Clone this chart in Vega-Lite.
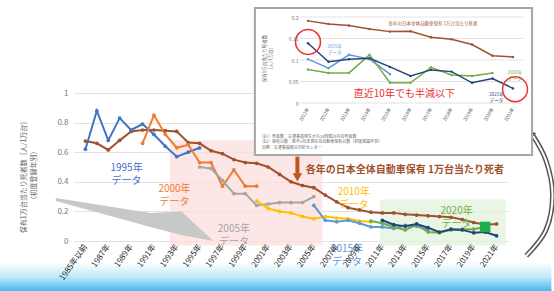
{
  "$schema": "https://vega.github.io/schema/vega-lite/v6.json",
  "width": 434,
  "height": 148,
  "autosize": {"type": "none"},
  "padding": {"left": 74, "top": 93, "right": 46, "bottom": 50},
  "background": "white",
  "config": {"view": {"stroke": null}, "font": "Noto Sans CJK JP", "text": {"font": "Noto Sans CJK JP"}},
  "datasets": {
    "lines": [
      {"series": "全体", "yr": 1985, "v": 0.675}, {"series": "全体", "yr": 1986, "v": 0.66}, {"series": "全体", "yr": 1987, "v": 0.615}, {"series": "全体", "yr": 1988, "v": 0.68}, {"series": "全体", "yr": 1989, "v": 0.74}, {"series": "全体", "yr": 1990, "v": 0.75}, {"series": "全体", "yr": 1991, "v": 0.75}, {"series": "全体", "yr": 1992, "v": 0.745}, {"series": "全体", "yr": 1993, "v": 0.74}, {"series": "全体", "yr": 1994, "v": 0.665}, {"series": "全体", "yr": 1995, "v": 0.66}, {"series": "全体", "yr": 1996, "v": 0.61}, {"series": "全体", "yr": 1997, "v": 0.59}, {"series": "全体", "yr": 1998, "v": 0.55}, {"series": "全体", "yr": 1999, "v": 0.53}, {"series": "全体", "yr": 2000, "v": 0.525}, {"series": "全体", "yr": 2001, "v": 0.5}, {"series": "全体", "yr": 2002, "v": 0.45}, {"series": "全体", "yr": 2003, "v": 0.4}, {"series": "全体", "yr": 2004, "v": 0.375}, {"series": "全体", "yr": 2005, "v": 0.36}, {"series": "全体", "yr": 2006, "v": 0.31}, {"series": "全体", "yr": 2007, "v": 0.265}, {"series": "全体", "yr": 2008, "v": 0.225}, {"series": "全体", "yr": 2009, "v": 0.21}, {"series": "全体", "yr": 2010, "v": 0.195}, {"series": "全体", "yr": 2011, "v": 0.19}, {"series": "全体", "yr": 2012, "v": 0.19}, {"series": "全体", "yr": 2013, "v": 0.18}, {"series": "全体", "yr": 2014, "v": 0.175}, {"series": "全体", "yr": 2015, "v": 0.17}, {"series": "全体", "yr": 2016, "v": 0.165}, {"series": "全体", "yr": 2017, "v": 0.16}, {"series": "全体", "yr": 2018, "v": 0.145}, {"series": "全体", "yr": 2019, "v": 0.125}, {"series": "全体", "yr": 2020, "v": 0.11}, {"series": "全体", "yr": 2021, "v": 0.115},
      {"series": "1995年データ", "yr": 1985, "v": 0.62}, {"series": "1995年データ", "yr": 1986, "v": 0.88}, {"series": "1995年データ", "yr": 1987, "v": 0.68}, {"series": "1995年データ", "yr": 1988, "v": 0.83}, {"series": "1995年データ", "yr": 1989, "v": 0.75}, {"series": "1995年データ", "yr": 1990, "v": 0.79}, {"series": "1995年データ", "yr": 1991, "v": 0.72}, {"series": "1995年データ", "yr": 1992, "v": 0.64}, {"series": "1995年データ", "yr": 1993, "v": 0.57}, {"series": "1995年データ", "yr": 1994, "v": 0.6}, {"series": "1995年データ", "yr": 1995, "v": 0.63},
      {"series": "2000年データ", "yr": 1990, "v": 0.66}, {"series": "2000年データ", "yr": 1991, "v": 0.85}, {"series": "2000年データ", "yr": 1992, "v": 0.72}, {"series": "2000年データ", "yr": 1993, "v": 0.63}, {"series": "2000年データ", "yr": 1994, "v": 0.65}, {"series": "2000年データ", "yr": 1995, "v": 0.53}, {"series": "2000年データ", "yr": 1996, "v": 0.53}, {"series": "2000年データ", "yr": 1997, "v": 0.37}, {"series": "2000年データ", "yr": 1998, "v": 0.48}, {"series": "2000年データ", "yr": 1999, "v": 0.37}, {"series": "2000年データ", "yr": 2000, "v": 0.37},
      {"series": "2005年データ", "yr": 1995, "v": 0.5}, {"series": "2005年データ", "yr": 1996, "v": 0.49}, {"series": "2005年データ", "yr": 1997, "v": 0.41}, {"series": "2005年データ", "yr": 1998, "v": 0.32}, {"series": "2005年データ", "yr": 1999, "v": 0.32}, {"series": "2005年データ", "yr": 2000, "v": 0.24}, {"series": "2005年データ", "yr": 2001, "v": 0.25}, {"series": "2005年データ", "yr": 2002, "v": 0.26}, {"series": "2005年データ", "yr": 2003, "v": 0.26}, {"series": "2005年データ", "yr": 2004, "v": 0.26}, {"series": "2005年データ", "yr": 2005, "v": 0.3},
      {"series": "2010年データ", "yr": 2000, "v": 0.27}, {"series": "2010年データ", "yr": 2001, "v": 0.22}, {"series": "2010年データ", "yr": 2002, "v": 0.2}, {"series": "2010年データ", "yr": 2003, "v": 0.19}, {"series": "2010年データ", "yr": 2004, "v": 0.165}, {"series": "2010年データ", "yr": 2005, "v": 0.15}, {"series": "2010年データ", "yr": 2006, "v": 0.165}, {"series": "2010年データ", "yr": 2007, "v": 0.155}, {"series": "2010年データ", "yr": 2008, "v": 0.15}, {"series": "2010年データ", "yr": 2009, "v": 0.135}, {"series": "2010年データ", "yr": 2010, "v": 0.13},
      {"series": "2015年データ", "yr": 2005, "v": 0.24}, {"series": "2015年データ", "yr": 2006, "v": 0.14}, {"series": "2015年データ", "yr": 2007, "v": 0.13}, {"series": "2015年データ", "yr": 2008, "v": 0.14}, {"series": "2015年データ", "yr": 2009, "v": 0.12}, {"series": "2015年データ", "yr": 2010, "v": 0.095}, {"series": "2015年データ", "yr": 2011, "v": 0.095}, {"series": "2015年データ", "yr": 2012, "v": 0.085}, {"series": "2015年データ", "yr": 2013, "v": 0.105}, {"series": "2015年データ", "yr": 2014, "v": 0.1}, {"series": "2015年データ", "yr": 2015, "v": 0.075},
      {"series": "2020年データ", "yr": 2010, "v": 0.135}, {"series": "2020年データ", "yr": 2011, "v": 0.12}, {"series": "2020年データ", "yr": 2012, "v": 0.095}, {"series": "2020年データ", "yr": 2013, "v": 0.075}, {"series": "2020年データ", "yr": 2014, "v": 0.11}, {"series": "2020年データ", "yr": 2015, "v": 0.06}, {"series": "2020年データ", "yr": 2016, "v": 0.055}, {"series": "2020年データ", "yr": 2017, "v": 0.075}, {"series": "2020年データ", "yr": 2018, "v": 0.08}, {"series": "2020年データ", "yr": 2019, "v": 0.08}, {"series": "2020年データ", "yr": 2020, "v": 0.095},
      {"series": "2021年データ", "yr": 2011, "v": 0.14}, {"series": "2021年データ", "yr": 2012, "v": 0.11}, {"series": "2021年データ", "yr": 2013, "v": 0.1}, {"series": "2021年データ", "yr": 2014, "v": 0.115}, {"series": "2021年データ", "yr": 2015, "v": 0.09}, {"series": "2021年データ", "yr": 2016, "v": 0.06}, {"series": "2021年データ", "yr": 2017, "v": 0.08}, {"series": "2021年データ", "yr": 2018, "v": 0.075}, {"series": "2021年データ", "yr": 2019, "v": 0.055}, {"series": "2021年データ", "yr": 2020, "v": 0.06}, {"series": "2021年データ", "yr": 2021, "v": 0.035}
    ],
    "labels": [
      {"series": "1995年データ", "yr": 1988.6, "v": 0.494, "text": "1995年"},
      {"series": "1995年データ", "yr": 1988.6, "v": 0.406, "text": "データ"},
      {"series": "2000年データ", "yr": 1992.8, "v": 0.354, "text": "2000年"},
      {"series": "2000年データ", "yr": 1992.8, "v": 0.266, "text": "データ"},
      {"series": "2005年データ", "yr": 1998.0, "v": 0.084, "text": "2005年"},
      {"series": "2005年データ", "yr": 1998.0, "v": -0.004, "text": "データ"},
      {"series": "2010年データ", "yr": 2008.5, "v": 0.334, "text": "2010年"},
      {"series": "2010年データ", "yr": 2008.5, "v": 0.246, "text": "データ"},
      {"series": "2015年データ", "yr": 2007.9, "v": -0.056, "text": "2015年"},
      {"series": "2015年データ", "yr": 2007.9, "v": -0.144, "text": "データ"},
      {"series": "2020年データ", "yr": 2017.5, "v": 0.204, "text": "2020年"},
      {"series": "2020年データ", "yr": 2017.5, "v": 0.116, "text": "データ"}
    ],
    "inset": [
      {"series": "全体", "yr": 2011, "v": 0.191}, {"series": "全体", "yr": 2012, "v": 0.184}, {"series": "全体", "yr": 2013, "v": 0.18}, {"series": "全体", "yr": 2014, "v": 0.172}, {"series": "全体", "yr": 2015, "v": 0.166}, {"series": "全体", "yr": 2016, "v": 0.167}, {"series": "全体", "yr": 2017, "v": 0.153}, {"series": "全体", "yr": 2018, "v": 0.148}, {"series": "全体", "yr": 2019, "v": 0.136}, {"series": "全体", "yr": 2020, "v": 0.11}, {"series": "全体", "yr": 2021, "v": 0.107},
      {"series": "2015年データ", "yr": 2011, "v": 0.102}, {"series": "2015年データ", "yr": 2012, "v": 0.081}, {"series": "2015年データ", "yr": 2013, "v": 0.112}, {"series": "2015年データ", "yr": 2014, "v": 0.102}, {"series": "2015年データ", "yr": 2015, "v": 0.067},
      {"series": "2020年データ", "yr": 2011, "v": 0.078}, {"series": "2020年データ", "yr": 2012, "v": 0.07}, {"series": "2020年データ", "yr": 2013, "v": 0.07}, {"series": "2020年データ", "yr": 2014, "v": 0.112}, {"series": "2020年データ", "yr": 2015, "v": 0.047}, {"series": "2020年データ", "yr": 2016, "v": 0.047}, {"series": "2020年データ", "yr": 2017, "v": 0.083}, {"series": "2020年データ", "yr": 2018, "v": 0.065}, {"series": "2020年データ", "yr": 2019, "v": 0.063}, {"series": "2020年データ", "yr": 2020, "v": 0.07},
      {"series": "2021年データ", "yr": 2011, "v": 0.139}, {"series": "2021年データ", "yr": 2012, "v": 0.096}, {"series": "2021年データ", "yr": 2013, "v": 0.102}, {"series": "2021年データ", "yr": 2014, "v": 0.104}, {"series": "2021年データ", "yr": 2015, "v": 0.084}, {"series": "2021年データ", "yr": 2016, "v": 0.063}, {"series": "2021年データ", "yr": 2017, "v": 0.077}, {"series": "2021年データ", "yr": 2018, "v": 0.073}, {"series": "2021年データ", "yr": 2019, "v": 0.047}, {"series": "2021年データ", "yr": 2020, "v": 0.057}, {"series": "2021年データ", "yr": 2021, "v": 0.034}
    ],
    "insetLabels": [
      {"series": "全体", "yr": 2017.1, "v": 0.184, "text": "各年の日本全体自動車保有 1万台当たり死者"},
      {"series": "2015年データ", "yr": 2012.3, "v": 0.13, "text": "2015年"},
      {"series": "2015年データ", "yr": 2012.3, "v": 0.116, "text": "データ"},
      {"series": "2021年データ", "yr": 2020.2, "v": 0.019, "text": "2021年"},
      {"series": "2021年データ", "yr": 2020.2, "v": 0.005, "text": "データ"},
      {"series": "2020年データ", "yr": 2021.1, "v": 0.069, "text": "2020年"},
      {"series": "2020年データ", "yr": 2021.1, "v": 0.055, "text": "データ"}
    ]
  },
  "layer": [
    {
      "layer": [
        {
          "data": {"values": [{"yr": 1977.5, "yr2": 2025.8, "v": -0.145, "v2": -0.345}]},
          "mark": {"type": "rect", "color": {"gradient": "linear", "x1": 0, "y1": 0, "x2": 0, "y2": 1, "stops": [{"offset": 0, "color": "#ffffff"}, {"offset": 0.5, "color": "#bde8fa"}, {"offset": 1, "color": "#3ab6ea"}]}},
          "encoding": {
            "x": {"field": "yr", "type": "quantitative", "scale": {"domain": [1984, 2022], "nice": false, "zero": false},
              "axis": {"values": [1985, 1987, 1989, 1991, 1993, 1995, 1997, 1999, 2001, 2003, 2005, 2007, 2009, 2011, 2013, 2015, 2017, 2019, 2021], "tickCount": 100, "labelExpr": "datum.value == 1985 ? '1985年以前' : datum.value + '年'", "labelAngle": -55, "labelFontSize": 8, "labelColor": "#222", "labelPadding": 4, "domain": false, "ticks": false, "grid": false, "title": null, "zindex": 1, "labelOverlap": false}},
            "x2": {"field": "yr2"},
            "y": {"field": "v", "type": "quantitative", "scale": {"domain": [0, 1], "nice": false, "zero": false},
              "axis": {"values": [0, 0.2, 0.4, 0.6, 0.8, 1], "tickCount": 100, "format": "~g", "labelFontSize": 8, "labelColor": "#777", "labelPadding": 6, "labelOverlap": false, "domain": false, "ticks": false, "grid": true, "gridColor": "#e2e2e2", "title": ["保有1万台当たり死者数［人/1万台］", "（初度登録年別）"], "titleFontSize": 7, "titleFontWeight": "normal", "titleColor": "#666", "titleX": -48, "titleY": 82, "titleLineHeight": 10}},
            "y2": {"field": "v2"}
          }
        },
        {
          "data": {"values": [{"yr": 1992.4, "yr2": 2005.75, "v": -0.03, "v2": 0.68}]},
          "mark": {"type": "rect", "color": "#fbdede", "opacity": 0.75},
          "encoding": {"x": {"field": "yr", "type": "quantitative"}, "x2": {"field": "yr2"}, "y": {"field": "v", "type": "quantitative"}, "y2": {"field": "v2"}}
        },
        {
          "data": {"values": [{"yr": 2010.8, "yr2": 2021.8, "v": -0.03, "v2": 0.28}]},
          "mark": {"type": "rect", "color": "#e1f2dc", "opacity": 0.75},
          "encoding": {"x": {"field": "yr", "type": "quantitative"}, "x2": {"field": "yr2"}, "y": {"field": "v", "type": "quantitative"}, "y2": {"field": "v2"}}
        },
        {
          "data": {"values": [{"yr": 1982.4, "v": 0.29, "v2": 0.27}, {"yr": 1990.7, "v": 0.19, "v2": 0.095}, {"yr": 1993.4, "v": 0.2, "v2": 0.04}, {"yr": 1996.2, "v": 0.0, "v2": 0.0}]},
          "mark": {"type": "area", "color": "#c8c8c8"},
          "encoding": {"x": {"field": "yr", "type": "quantitative"}, "y": {"field": "v", "type": "quantitative"}, "y2": {"field": "v2"}}
        },
        {
          "data": {"name": "lines"},
          "mark": {"type": "line", "strokeWidth": 2, "point": {"filled": true, "size": 14}},
          "encoding": {
            "x": {"field": "yr", "type": "quantitative"},
            "y": {"field": "v", "type": "quantitative"},
            "color": {"field": "series", "type": "nominal", "legend": null,
              "scale": {"domain": ["全体", "1995年データ", "2000年データ", "2005年データ", "2010年データ", "2015年データ", "2020年データ", "2021年データ"], "range": ["#a0522d", "#4472c4", "#ed7d31", "#a5a5a5", "#ffc000", "#5b9bd5", "#70ad47", "#264478"]}}
          }
        },
        {
          "data": {"name": "lines"},
          "transform": [{"filter": "datum.series == '2020年データ' && datum.yr == 2020"}],
          "mark": {"type": "point", "shape": "square", "filled": true, "opacity": 1, "size": 110, "color": "#1fae4a"},
          "encoding": {"x": {"field": "yr", "type": "quantitative"}, "y": {"field": "v", "type": "quantitative"}}
        },
        {
          "data": {"values": [{"yr": 2003.56, "v": 0.57, "v2": 0.455}]},
          "mark": {"type": "rule", "color": "#c0561d", "strokeWidth": 4},
          "encoding": {"x": {"field": "yr", "type": "quantitative"}, "y": {"field": "v", "type": "quantitative"}, "y2": {"field": "v2"}}
        },
        {
          "data": {"values": [{"yr": 2003.56, "v": 0.43}]},
          "mark": {"type": "point", "shape": "triangle-down", "filled": true, "opacity": 1, "size": 90, "color": "#c0561d"},
          "encoding": {"x": {"field": "yr", "type": "quantitative"}, "y": {"field": "v", "type": "quantitative"}}
        },
        {
          "data": {"values": [{"i": 1, "yr": 2024.2, "v": 0.71}, {"i": 2, "yr": 2025.3, "v": 0.55}, {"i": 3, "yr": 2025.9, "v": 0.31}, {"i": 4, "yr": 2025.3, "v": 0.07}, {"i": 5, "yr": 2023.6, "v": -0.1}]},
          "mark": {"type": "line", "interpolate": "catmull-rom", "color": "#555555", "strokeWidth": 5},
          "encoding": {"x": {"field": "yr", "type": "quantitative"}, "y": {"field": "v", "type": "quantitative"}, "order": {"field": "i", "type": "quantitative"}}
        },
        {
          "data": {"values": [{"i": 1, "yr": 2024.2, "v": 0.71}, {"i": 2, "yr": 2025.3, "v": 0.55}, {"i": 3, "yr": 2025.9, "v": 0.31}, {"i": 4, "yr": 2025.3, "v": 0.07}, {"i": 5, "yr": 2023.6, "v": -0.1}]},
          "mark": {"type": "line", "interpolate": "catmull-rom", "color": "#ffffff", "strokeWidth": 2},
          "encoding": {"x": {"field": "yr", "type": "quantitative"}, "y": {"field": "v", "type": "quantitative"}, "order": {"field": "i", "type": "quantitative"}}
        },
        {
          "data": {"values": [{"yr": 2024.0, "v": 0.73}]},
          "mark": {"type": "point", "shape": "triangle-up", "angle": -35, "filled": true, "opacity": 1, "size": 70, "color": "#555555"},
          "encoding": {"x": {"field": "yr", "type": "quantitative"}, "y": {"field": "v", "type": "quantitative"}}
        },
        {
          "data": {"name": "labels"},
          "mark": {"type": "text", "fontSize": 10, "align": "center", "baseline": "middle"},
          "encoding": {"x": {"field": "yr", "type": "quantitative"}, "y": {"field": "v", "type": "quantitative"}, "text": {"field": "text"}, "color": {"field": "series", "type": "nominal"}}
        },
        {
          "data": {"values": [{"series": "全体", "yr": 2004.3, "v": 0.48, "text": "各年の日本全体自動車保有 1万台当たり死者"}]},
          "mark": {"type": "text", "fontSize": 10, "fontWeight": "bold", "align": "left", "baseline": "middle"},
          "encoding": {"x": {"field": "yr", "type": "quantitative"}, "y": {"field": "v", "type": "quantitative"}, "text": {"field": "text"}, "color": {"field": "series", "type": "nominal"}}
        }
      ]
    },
    {
      "layer": [
        {
          "data": {"values": [{"yr": 2008.41, "yr2": 2021.93, "v": -0.121, "v2": 0.221}]},
          "mark": {"type": "rect", "fill": "#ffffff", "stroke": "#a6a6a6", "strokeWidth": 2},
          "encoding": {
            "x": {"field": "yr", "type": "quantitative", "scale": {"domain": [2011, 2021], "range": [234, 439], "nice": false, "zero": false},
              "axis": {"orient": "bottom", "offset": -135, "values": [2011, 2012, 2013, 2014, 2015, 2016, 2017, 2018, 2019, 2020, 2021], "tickCount": 100, "labelExpr": "datum.value + '年'", "labelAngle": -60, "labelFontSize": 4.5, "labelColor": "#444", "labelPadding": 2, "domain": false, "ticks": false, "grid": false, "title": null, "labelOverlap": false, "zindex": 2}},
            "x2": {"field": "yr2"},
            "y": {"field": "v", "type": "quantitative", "scale": {"domain": [0, 0.2], "range": [10, -76], "nice": false, "zero": false},
              "axis": {"orient": "left", "offset": -226, "values": [0, 0.05, 0.1, 0.15, 0.2], "tickCount": 100, "format": "~g", "labelFontSize": 5, "labelColor": "#777", "labelPadding": 2, "labelOverlap": false, "domain": false, "ticks": false, "grid": false, "zindex": 2, "title": ["保有1万台当たり死者数", "［人/1万台］"], "titleFontSize": 4.5, "titleFontWeight": "normal", "titleColor": "#666", "titleX": -34, "titleY": -35, "titleLineHeight": 6}},
            "y2": {"field": "v2"}
          }
        },
        {
          "data": {"values": [{"yr": 2010.6, "yr2": 2021.5, "v": 0}, {"yr": 2010.6, "yr2": 2021.5, "v": 0.05}, {"yr": 2010.6, "yr2": 2021.5, "v": 0.1}, {"yr": 2010.6, "yr2": 2021.5, "v": 0.15}, {"yr": 2010.6, "yr2": 2021.5, "v": 0.2}]},
          "mark": {"type": "rule", "color": "#e3e3e3", "strokeWidth": 1},
          "encoding": {"x": {"field": "yr", "type": "quantitative"}, "x2": {"field": "yr2"}, "y": {"field": "v", "type": "quantitative"}}
        },
        {
          "data": {"name": "inset"},
          "mark": {"type": "line", "strokeWidth": 1.5, "point": {"filled": true, "size": 6}},
          "encoding": {"x": {"field": "yr", "type": "quantitative"}, "y": {"field": "v", "type": "quantitative"}, "color": {"field": "series", "type": "nominal"}}
        },
        {
          "data": {"values": [{"yr": 2011, "v": 0.142}, {"yr": 2021.1, "v": 0.032}]},
          "mark": {"type": "point", "shape": "circle", "filled": false, "size": 620, "stroke": "#f03030", "strokeWidth": 1.5, "opacity": 1},
          "encoding": {"x": {"field": "yr", "type": "quantitative"}, "y": {"field": "v", "type": "quantitative"}}
        },
        {
          "data": {"values": [{"yr": 2015.7, "v": 0.021, "text": "直近10年でも半減以下"}]},
          "mark": {"type": "text", "fontSize": 10, "color": "#f03030", "align": "center", "baseline": "middle"},
          "encoding": {"x": {"field": "yr", "type": "quantitative"}, "y": {"field": "v", "type": "quantitative"}, "text": {"field": "text"}}
        },
        {
          "data": {"name": "insetLabels"},
          "mark": {"type": "text", "fontSize": 4.5, "align": "center", "baseline": "middle"},
          "encoding": {"x": {"field": "yr", "type": "quantitative"}, "y": {"field": "v", "type": "quantitative"}, "text": {"field": "text"}, "color": {"field": "series", "type": "nominal"}}
        },
        {
          "data": {"values": [{"yr": 2008.75, "v": -0.074, "text": "注1）死者数：交通事故発生から24時間以内の死者数\n注2）保有台数：各年3月末現在の自動車保有台数（初度登録年別）\n出典：交通事故総合分析センター"}]},
          "mark": {"type": "text", "fontSize": 4, "lineBreak": "\n", "align": "left", "baseline": "top", "lineHeight": 5.5, "color": "#666"},
          "encoding": {"x": {"field": "yr", "type": "quantitative"}, "y": {"field": "v", "type": "quantitative"}, "text": {"field": "text"}}
        }
      ]
    }
  ],
  "resolve": {"scale": {"x": "independent", "y": "independent"}, "axis": {"x": "independent", "y": "independent"}}
}
